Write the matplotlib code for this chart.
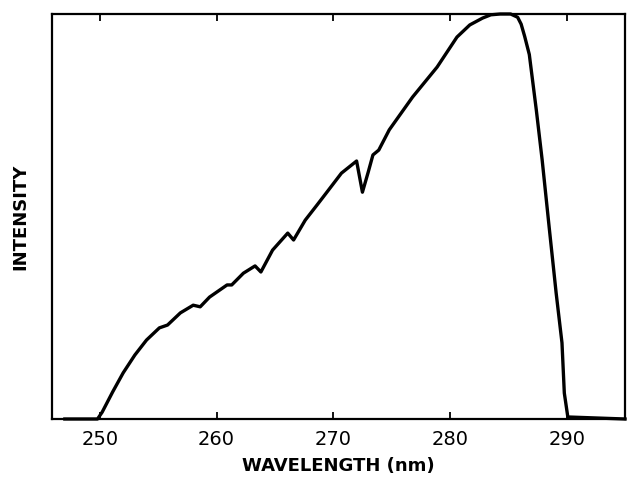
import matplotlib
matplotlib.use("Agg")
import matplotlib.pyplot as plt

# spectrum (wavelength in nm, relative intensity)
wavelength = [247.0, 248.3, 249.8, 250.2, 251.1, 252.0, 253.0, 254.0, 255.1, 255.8,
              256.9, 258.0, 258.6, 259.4, 260.3, 260.9, 261.3, 262.3, 263.3, 263.8,
              264.8, 266.1, 266.6, 267.6, 268.6, 269.4, 270.7, 272.0, 272.5, 273.0,
              273.4, 273.9, 274.8, 276.8, 278.9, 280.6, 281.7, 282.8, 283.5, 284.3,
              285.2, 285.8, 286.1, 286.4, 286.8, 287.4, 287.9, 288.5, 289.1, 289.6,
              289.8, 290.1, 295.0]
intensity = [0.0, 0.0, 0.0, 0.017, 0.067, 0.114, 0.158, 0.195, 0.225, 0.232,
             0.262, 0.281, 0.277, 0.301, 0.319, 0.331, 0.331, 0.360, 0.378, 0.363,
             0.417, 0.459, 0.442, 0.491, 0.528, 0.558, 0.607, 0.637, 0.560, 0.610,
             0.652, 0.664, 0.714, 0.795, 0.869, 0.943, 0.973, 0.990, 0.998, 1.0,
             1.0, 0.992, 0.975, 0.945, 0.900, 0.763, 0.640, 0.474, 0.311, 0.188,
             0.064, 0.005, 0.0]
xticks = [250, 260, 270, 280, 290]

fig = plt.figure(figsize=(6.27, 4.82), dpi=100)
ax = fig.add_axes([52 / 627, 63 / 482, 573 / 627, 405 / 482])

ax.plot(wavelength, intensity, color="black", lw=2.4, solid_joinstyle="round",
        clip_on=False)

ax.set_xlim(245.9, 295.0)
ax.set_ylim(0, 1.0)
ax.set_xticks(xticks)
ax.set_yticks([])
ax.tick_params(axis="x", direction="in", top=True, length=5, width=1.3,
               labelsize=14, pad=8)
for s in ax.spines.values():
    s.set_linewidth(1.6)

ax.set_xlabel("WAVELENGTH (nm)", fontsize=13, fontweight="bold", labelpad=6)
ax.set_ylabel("INTENSITY", fontsize=13, fontweight="bold", labelpad=16)

fig.savefig("out.png", dpi=100)
